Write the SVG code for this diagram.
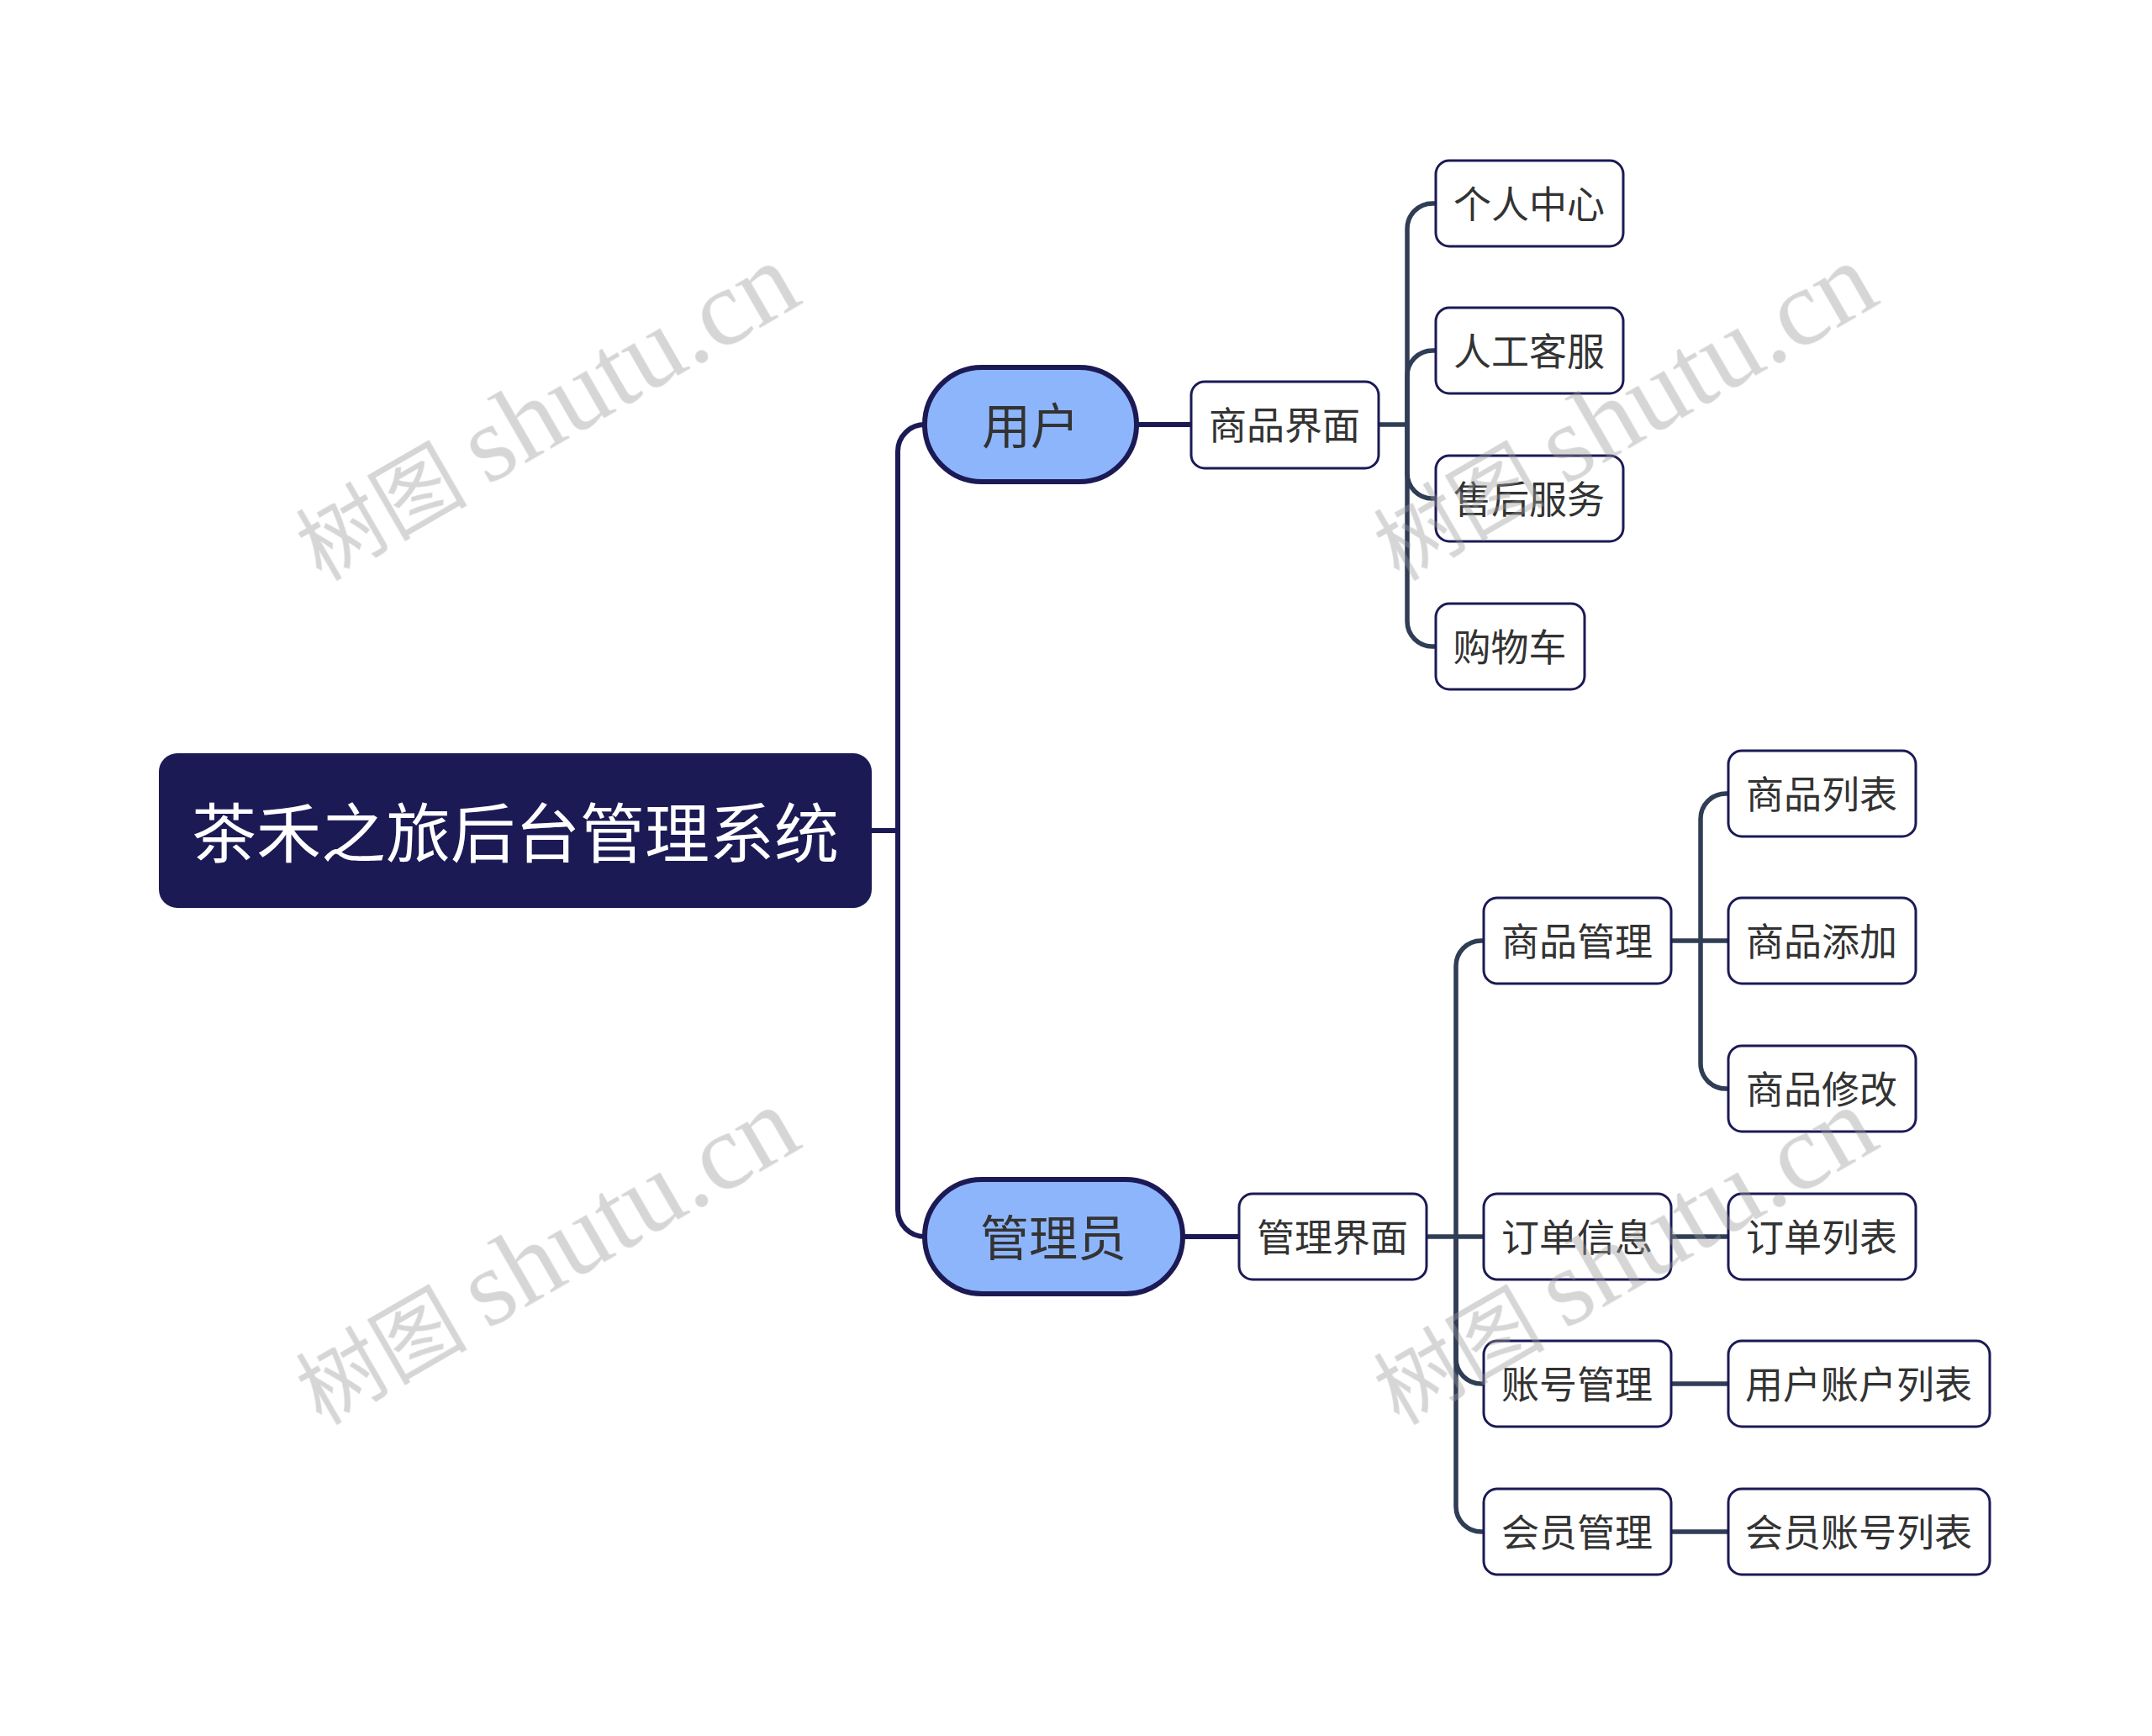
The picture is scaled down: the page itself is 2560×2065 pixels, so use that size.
<svg xmlns="http://www.w3.org/2000/svg" width="2560" height="2065" viewBox="0 0 2560 2065">
<style>
.t{font-family:"Noto Sans CJK SC","Noto Sans",sans-serif;fill:#333333;text-anchor:middle;dominant-baseline:central}
.box{fill:#ffffff;stroke:#1c1a55;stroke-width:3}
.pill{fill:#8db5fc;stroke:#1c1a55;stroke-width:6}
.c1{fill:none;stroke:#1c1a55;stroke-width:6}
.c2{fill:none;stroke:#2f3d55;stroke-width:5.5}
.wm{fill:#999999;opacity:0.4}
.wmc{font-family:"Noto Sans CJK SC",sans-serif;font-size:102px}
.wms{font-family:"Liberation Serif",serif;font-size:130px}
</style>
<rect width="2560" height="2065" fill="#ffffff"/>
<g id="connectors">
<path class="c1" d="M1037 988 H1068"/>
<path class="c1" d="M1068 988 V537 A32 32 0 0 1 1100 505"/>
<path class="c1" d="M1068 988 V1439 A32 32 0 0 0 1100 1471"/>
<path class="c1" d="M1352 505 H1417"/>
<path class="c1" d="M1407 1471 H1474"/>
<path class="c2" d="M1640 505 H1674"/>
<path class="c2" d="M1674 505 V272 A30 30 0 0 1 1704 242 H1708"/>
<path class="c2" d="M1674 505 V447 A30 30 0 0 1 1704 417 H1708"/>
<path class="c2" d="M1674 505 V563 A30 30 0 0 0 1704 593 H1708"/>
<path class="c2" d="M1674 505 V739 A30 30 0 0 0 1704 769 H1708"/>
<path class="c2" d="M1697 1471 H1765"/>
<path class="c2" d="M1732 1471 V1149 A30 30 0 0 1 1762 1119 H1765"/>
<path class="c2" d="M1732 1471 V1616 A30 30 0 0 0 1762 1646 H1765"/>
<path class="c2" d="M1732 1471 V1792 A30 30 0 0 0 1762 1822 H1765"/>
<path class="c2" d="M1988 1119 H2056"/>
<path class="c2" d="M2023 1119 V974 A30 30 0 0 1 2053 944 H2056"/>
<path class="c2" d="M2023 1119 V1265 A30 30 0 0 0 2053 1295 H2056"/>
<path class="c2" d="M1988 1471 H2056"/>
<path class="c2" d="M1988 1646 H2056"/>
<path class="c2" d="M1988 1822 H2056"/>
</g>
<g id="root">
<rect x="189" y="896" width="848" height="184" rx="22" fill="#1c1a55"/>
<text class="t" x="613" y="986" font-size="77" style="fill:#ffffff">茶禾之旅后台管理系统</text>
</g>
<g id="user">
<rect class="pill" x="1100" y="437" width="252" height="136" rx="68"/>
<text class="t" x="1226" y="503" font-size="58">用户</text>
</g>
<g id="admin">
<rect class="pill" x="1100" y="1403" width="307" height="136" rx="68"/>
<text class="t" x="1253" y="1469" font-size="58">管理员</text>
</g>
<g id="n-spjm"><rect class="box" x="1417" y="454" width="223" height="103" rx="16"/><text class="t" x="1528" y="503" font-size="45">商品界面</text></g>
<g id="n-grzx"><rect class="box" x="1708" y="191" width="223" height="102" rx="16"/><text class="t" x="1819" y="240" font-size="45">个人中心</text></g>
<g id="n-rgkf"><rect class="box" x="1708" y="366" width="223" height="102" rx="16"/><text class="t" x="1819" y="415" font-size="45">人工客服</text></g>
<g id="n-shfw"><rect class="box" x="1708" y="542" width="223" height="102" rx="16"/><text class="t" x="1819" y="591" font-size="45">售后服务</text></g>
<g id="n-gwc"><rect class="box" x="1708" y="718" width="177" height="102" rx="16"/><text class="t" x="1796" y="767" font-size="45">购物车</text></g>
<g id="n-gljm"><rect class="box" x="1474" y="1420" width="223" height="102" rx="16"/><text class="t" x="1585" y="1469" font-size="45">管理界面</text></g>
<g id="n-spgl"><rect class="box" x="1765" y="1068" width="223" height="102" rx="16"/><text class="t" x="1876" y="1117" font-size="45">商品管理</text></g>
<g id="n-ddxx"><rect class="box" x="1765" y="1420" width="223" height="102" rx="16"/><text class="t" x="1876" y="1469" font-size="45">订单信息</text></g>
<g id="n-zhgl"><rect class="box" x="1765" y="1595" width="223" height="102" rx="16"/><text class="t" x="1876" y="1644" font-size="45">账号管理</text></g>
<g id="n-hygl"><rect class="box" x="1765" y="1771" width="223" height="102" rx="16"/><text class="t" x="1876" y="1820" font-size="45">会员管理</text></g>
<g id="n-splb"><rect class="box" x="2056" y="893" width="223" height="102" rx="16"/><text class="t" x="2167" y="942" font-size="45">商品列表</text></g>
<g id="n-sptj"><rect class="box" x="2056" y="1068" width="223" height="102" rx="16"/><text class="t" x="2167" y="1117" font-size="45">商品添加</text></g>
<g id="n-spxg"><rect class="box" x="2056" y="1244" width="223" height="102" rx="16"/><text class="t" x="2167" y="1293" font-size="45">商品修改</text></g>
<g id="n-ddlb"><rect class="box" x="2056" y="1420" width="223" height="102" rx="16"/><text class="t" x="2167" y="1469" font-size="45">订单列表</text></g>
<g id="n-yhzhlb"><rect class="box" x="2056" y="1595" width="311" height="102" rx="16"/><text class="t" x="2211" y="1644" font-size="45">用户账户列表</text></g>
<g id="n-hyzhlb"><rect class="box" x="2056" y="1771" width="311" height="102" rx="16"/><text class="t" x="2211" y="1820" font-size="45">会员账号列表</text></g>
<g id="watermark" class="wm">
<g transform="translate(382,692) rotate(-30)"><text class="wmc" x="0" y="0">树图</text><text class="wms" x="228" y="0">shutu.cn</text></g>
<g transform="translate(1664,692) rotate(-30)"><text class="wmc" x="0" y="0">树图</text><text class="wms" x="228" y="0">shutu.cn</text></g>
<g transform="translate(382,1696) rotate(-30)"><text class="wmc" x="0" y="0">树图</text><text class="wms" x="228" y="0">shutu.cn</text></g>
<g transform="translate(1664,1696) rotate(-30)"><text class="wmc" x="0" y="0">树图</text><text class="wms" x="228" y="0">shutu.cn</text></g>
</g>
</svg>
